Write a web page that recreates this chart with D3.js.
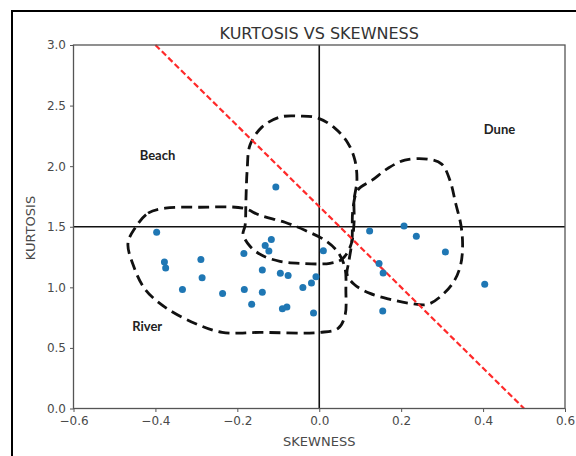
<!DOCTYPE html>
<html>
<head>
<meta charset="utf-8">
<script src="https://cdn.jsdelivr.net/npm/d3@7"></script>
<style>
  html, body { margin: 0; padding: 0; background: #fff; }
  svg { display: block; }
</style>
</head>
<body>
<svg id="chart" width="576" height="456"></svg>
<script>
// Sample skewness / kurtosis values
const skewness = [-0.397, -0.378, -0.375, -0.334, -0.289, -0.286, -0.236, -0.184, -0.183, -0.165,
  -0.139, -0.139, -0.132, -0.117, -0.123, -0.106, -0.095, -0.076, -0.090, -0.079,
  -0.040, -0.019, -0.008, -0.014, 0.010, 0.123, 0.146, 0.156, 0.155, 0.207,
  0.237, 0.308, 0.404];
const kurtosis = [1.455, 1.209, 1.160, 0.983, 1.229, 1.080, 0.950, 1.279, 0.983, 0.860,
  1.143, 0.959, 1.345, 1.394, 1.300, 1.829, 1.116, 1.097, 0.824, 0.837,
  0.998, 1.036, 1.088, 0.788, 1.302, 1.465, 1.196, 1.118, 0.804, 1.507,
  1.421, 1.292, 1.025];

// Axis ticks
const xTicks = [-0.6, -0.4, -0.2, 0.0, 0.2, 0.4, 0.6];
const yTicks = [0.0, 0.5, 1.0, 1.5, 2.0, 2.5, 3.0];

// Quadrant reference lines
const refSkew = 0.0;
const refKurt = 1.5;

// Dividing line (skewness, kurtosis end points)
const divideSkew = [-0.4, 0.5];
const divideKurt = [3.0, 0.0];

// Environment outlines in (skewness, kurtosis)
const beachOutline = [[-0.181, 1.512], [-0.179, 1.719], [-0.176, 1.967], [-0.169, 2.174], [-0.140, 2.322],
  [-0.096, 2.405], [-0.047, 2.413], [-0.003, 2.397], [0.038, 2.314], [0.070, 2.190], [0.087, 2.050],
  [0.092, 1.884], [0.085, 1.719], [0.085, 1.537], [0.077, 1.347], [0.055, 1.231], [0.026, 1.198],
  [-0.047, 1.198], [-0.096, 1.215], [-0.140, 1.264], [-0.169, 1.339], [-0.186, 1.438]];
const riverOutline = [[-0.450, 1.488], [-0.418, 1.612], [-0.376, 1.653], [-0.291, 1.661], [-0.186, 1.653],
  [-0.145, 1.595], [-0.084, 1.537], [-0.035, 1.471], [0.014, 1.388], [0.046, 1.289], [0.063, 1.157],
  [0.065, 0.975], [0.063, 0.769], [0.046, 0.661], [0.002, 0.628], [-0.145, 0.628], [-0.237, 0.628],
  [-0.303, 0.702], [-0.376, 0.835], [-0.425, 0.983], [-0.454, 1.182], [-0.467, 1.364]];
const duneOutline = [[0.072, 1.207], [0.080, 1.388], [0.082, 1.636], [0.094, 1.802], [0.129, 1.884],
  [0.168, 1.983], [0.209, 2.050], [0.265, 2.058], [0.299, 2.017], [0.319, 1.884], [0.333, 1.694],
  [0.346, 1.512], [0.350, 1.347], [0.345, 1.182], [0.329, 1.050], [0.302, 0.942], [0.265, 0.860],
  [0.221, 0.868], [0.173, 0.901], [0.124, 0.950], [0.085, 1.025], [0.068, 1.107]];

// Environment labels
const envNames = ["Beach", "Dune", "River"];
const envSkew = [-0.395, 0.44, -0.42];
const envKurt = [2.08, 2.29, 0.67];

const svg = d3.select("#chart");

// Outer frame
svg.append("rect")
  .attr("x", 12).attr("y", 11)
  .attr("width", 600).attr("height", 500)
  .attr("fill", "none").attr("stroke", "#000").attr("stroke-width", 2);

const x = d3.scaleLinear().domain([-0.6, 0.6]).range([73.5, 565]);
const y = d3.scaleLinear().domain([0, 3]).range([408.5, 45]);

const tickFont = "DejaVu Sans, sans-serif";
const fmt = d3.format(".1f");

// Axes
const xAxis = svg.append("g")
  .attr("transform", `translate(0,${y(0)})`)
  .call(d3.axisBottom(x).tickValues(xTicks).tickFormat(fmt).tickSize(3.5).tickPadding(4));
const yAxis = svg.append("g")
  .attr("transform", `translate(${x(-0.6)},0)`)
  .call(d3.axisLeft(y).tickValues(yTicks).tickFormat(fmt).tickSize(3.5).tickPadding(4));
[xAxis, yAxis].forEach(g => {
  g.select(".domain").remove();
  g.selectAll(".tick line").attr("stroke", "#555").attr("stroke-width", 1);
  g.selectAll(".tick text").attr("fill", "#4a4a4a")
    .style("font-family", tickFont).style("font-size", "12px");
});

// Quadrant lines
svg.append("line")
  .attr("x1", x(refSkew)).attr("x2", x(refSkew))
  .attr("y1", y(3)).attr("y2", y(0))
  .attr("stroke", "#111").attr("stroke-width", 1.6);
svg.append("line")
  .attr("x1", x(-0.6)).attr("x2", x(0.6))
  .attr("y1", y(refKurt)).attr("y2", y(refKurt))
  .attr("stroke", "#111").attr("stroke-width", 1.6);

// Environment outlines
const outline = d3.line()
  .x(d => x(d[0])).y(d => y(d[1]))
  .curve(d3.curveCatmullRomClosed.alpha(0.5));
[beachOutline, riverOutline, duneOutline].forEach(pts => {
  svg.append("path")
    .attr("d", outline(pts))
    .attr("fill", "none")
    .attr("stroke", "#111")
    .attr("stroke-width", 2.8)
    .attr("stroke-dasharray", "11,6")
    .attr("stroke-linecap", "butt");
});

// Dividing line
svg.append("line")
  .attr("x1", x(divideSkew[0])).attr("y1", y(divideKurt[0]))
  .attr("x2", x(divideSkew[1])).attr("y2", y(divideKurt[1]))
  .attr("stroke", "#ff2a2a").attr("stroke-width", 2.2)
  .attr("stroke-dasharray", "6,3");

// Samples
svg.append("g").selectAll("circle")
  .data(skewness.map((s, i) => [s, kurtosis[i]]))
  .join("circle")
  .attr("cx", d => x(d[0])).attr("cy", d => y(d[1]))
  .attr("r", 3.5).attr("fill", "#1f77b4");

// Plot box
svg.append("rect")
  .attr("x", x(-0.6)).attr("y", y(3))
  .attr("width", x(0.6) - x(-0.6)).attr("height", y(0) - y(3))
  .attr("fill", "none").attr("stroke", "#555").attr("stroke-width", 1.3);

// Environment labels
svg.append("g").selectAll("text")
  .data(envNames)
  .join("text")
  .attr("x", (d, i) => x(envSkew[i])).attr("y", (d, i) => y(envKurt[i]))
  .attr("text-anchor", "middle").attr("dominant-baseline", "middle")
  .style("font-family", "Lato, sans-serif").style("font-weight", "bold").style("font-size", "13px")
  .attr("fill", "#222")
  .text(d => d);

// Title and axis labels
svg.append("text")
  .attr("x", x(0)).attr("y", 39)
  .attr("text-anchor", "middle")
  .style("font-family", tickFont).style("font-size", "16px").attr("fill", "#333")
  .text("KURTOSIS VS SKEWNESS");
svg.append("text")
  .attr("x", x(0)).attr("y", 446)
  .attr("text-anchor", "middle")
  .style("font-family", tickFont).style("font-size", "13px").attr("fill", "#4a4a4a")
  .text("SKEWNESS");
svg.append("text")
  .attr("transform", `translate(35,${228}) rotate(-90)`)
  .attr("text-anchor", "middle")
  .style("font-family", tickFont).style("font-size", "13px").attr("fill", "#4a4a4a")
  .text("KURTOSIS");
</script>
</body>
</html>
